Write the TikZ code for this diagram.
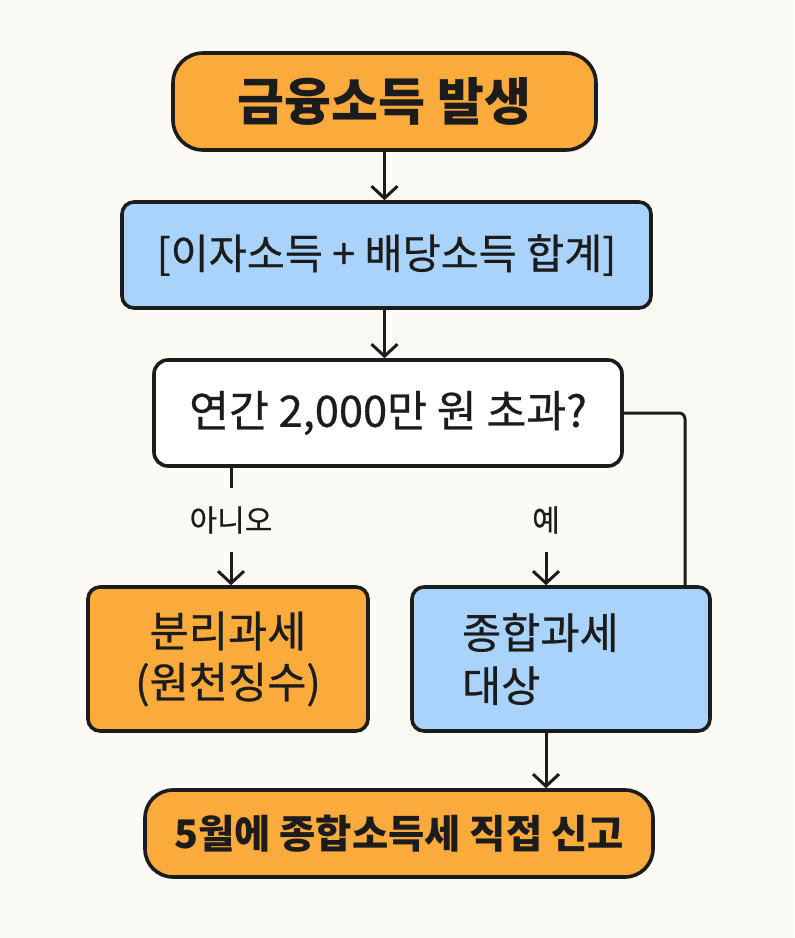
\documentclass[tikz,border=0pt]{standalone}
\usepackage{fontspec}
\setmainfont{Noto Sans CJK KR}
\newfontfamily\medfont[FakeBold=0.6]{Noto Sans CJK KR}
\usetikzlibrary{arrows.meta, positioning}
\definecolor{paper}{HTML}{FCFAF5}
\definecolor{flowOrange}{HTML}{FBAA3C}
\definecolor{flowBlue}{HTML}{A9D3FB}
\definecolor{ink}{HTML}{1C1C1C}

\begin{document}
\begin{tikzpicture}[x=0.5pt, y=-0.5pt, >={Straight Barb[length=6pt, width=13pt]},
    box/.style={draw=ink, line width=1.8pt, align=center, inner sep=0pt, text=ink},
    termbox/.style={box, fill=flowOrange, rounded corners=15pt},
    stepbox/.style={box, rounded corners=6pt},
    flow/.style={draw=ink, line width=1.5pt},
    lbl/.style={text=ink, inner xsep=2pt, inner ysep=9pt, font=\medfont\fontsize{15}{17}\selectfont}]

% ── canvas ────────────────────────────────────────────────
\fill[paper] (0, 0) rectangle (794, 938);

% ── top: start and sum ────────────────────────────────────
\node[termbox, minimum width=211.5pt, minimum height=48.5pt,
      font=\bfseries\fontsize{25.5}{30}\selectfont] (start) at (384.5, 101.5) {금융소득 발생};
\node[stepbox, fill=flowBlue, minimum width=264.5pt, minimum height=53pt,
      font=\medfont\fontsize{20.7}{25}\selectfont] (sum) at (386.5, 255) {[이자소득 + 배당소득 합계]};

% ── decision ──────────────────────────────────────────────
\node[stepbox, fill=white, rounded corners=7pt, minimum width=234pt, minimum height=53pt,
      font=\medfont\fontsize{21.7}{26}\selectfont] (check) at (388, 413) {연간 2,000만 원 초과?};

\node[lbl] (no) at (231, 520) {아니오};
\node[lbl] (yes) at (546, 520) {예};

% ── branches ──────────────────────────────────────────────
\node[stepbox, fill=flowOrange, minimum width=140pt, minimum height=72pt,
      font=\medfont\fontsize{21.3}{25.5}\selectfont] (sep) at (228, 659) {분리과세\\(원천징수)};
\node[stepbox, fill=flowBlue, minimum width=149pt, minimum height=72pt, align=left,
      text width=99pt, inner xsep=25pt,
      font=\medfont\fontsize{21.3}{26.5}\selectfont] (comp) at (561, 659) {종합과세\\대상};

% ── end ───────────────────────────────────────────────────
\node[termbox, rounded corners=14pt, minimum width=254pt, minimum height=43.5pt,
      font=\bfseries\fontsize{19.7}{24}\selectfont] (file) at (399, 833.5) {5월에 종합소득세 직접 신고};

\coordinate (turn) at (685, 413);

% ── connectors ────────────────────────────────────────────
\draw[flow, ->] (start.south) -- (start.south |- sum.north);
\draw[flow, ->] (sum.south -| start) -- (start |- check.north);
\draw[flow] (check.south -| no) -- (no.north);
\draw[flow, ->] (no.south) -- (no.south |- sep.north);
\draw[flow, ->] (yes.south) -- (yes.south |- comp.north);
\draw[flow, rounded corners=3pt] (check.east) -- (turn) -- (turn |- comp.north);
\draw[flow, ->] (comp.south -| yes) -- (yes |- file.north);

\end{tikzpicture}
\end{document}
